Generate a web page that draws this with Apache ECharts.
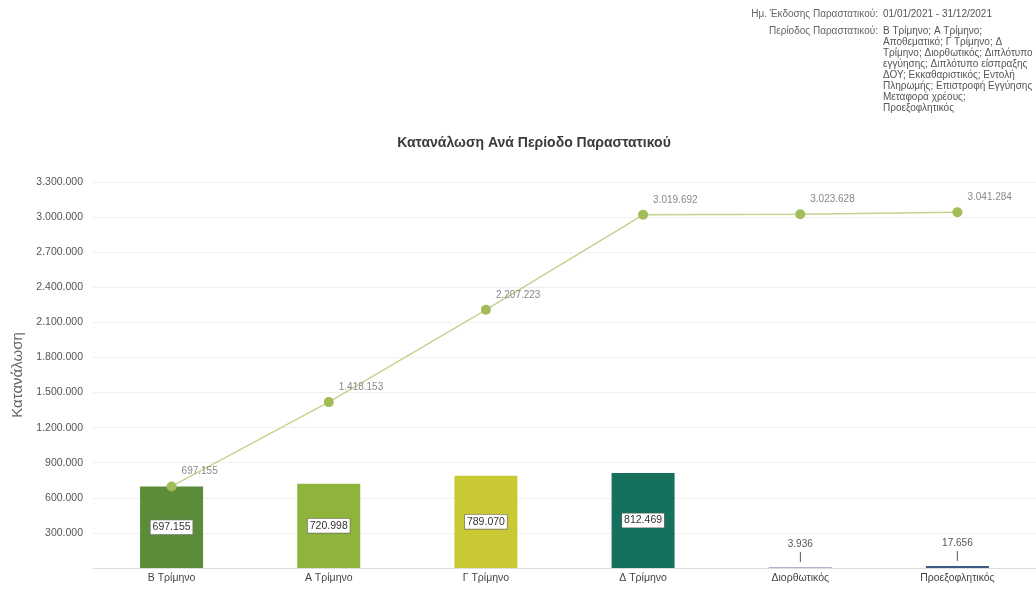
<!DOCTYPE html>
<html>
<head>
<meta charset="utf-8">
<script src="https://cdn.jsdelivr.net/npm/echarts@6/dist/echarts.min.js"></script>
<style>html,body{margin:0;padding:0;background:#fff}#c{width:1036px;height:591px}</style>
</head>
<body>
<div id="c"></div>
<script>
const categories = ['Β Τρίμηνο', 'Α Τρίμηνο', 'Γ Τρίμηνο', 'Δ Τρίμηνο', 'Διορθωτικός', 'Προεξοφλητικός'];
const barValues = [697155, 720998, 789070, 812469, 3936, 17656];
const cumulativeValues = [697155, 1418153, 2207223, 3019692, 3023628, 3041284];
const barColors = ['#5b8c3a', '#8fb43c', '#c9c935', '#16705e', '#6f5f9a', '#3c5a82'];
const yTicks = { min: 0, max: 3300000, interval: 300000 };
const titleText = 'Κατανάλωση Ανά Περίοδο Παραστατικού';
const yAxisName = 'Κατανάλωση';
const headerLabel1 = 'Ημ. Έκδοσης Παραστατικού:';
const headerValue1 = '01/01/2021 - 31/12/2021';
const headerLabel2 = 'Περίοδος Παραστατικού:';
const headerValue2Lines = ['Β Τρίμηνο; Α Τρίμηνο;', 'Αποθεματικό; Γ Τρίμηνο; Δ', 'Τρίμηνο; Διορθωτικός; Διπλότυπο', 'εγγύησης; Διπλότυπο είσπραξης', 'ΔΟΥ; Εκκαθαριστικός; Εντολή', 'Πληρωμής; Επιστροφή Εγγύησης', 'Μεταφορά χρέους;', 'Προεξοφλητικός'];

function fmt(v) { return String(Math.round(v)).replace(/\B(?=(\d{3})+(?!\d))/g, '.'); }

const chart = echarts.init(document.getElementById('c'));
const font = 'Liberation Sans, Arial, sans-serif';

const barData = barValues.map((v, i) => {
  const d = { value: v, itemStyle: { color: barColors[i] } };
  if (i >= 4) {
    d.label = {
      position: 'top', distance: 4, backgroundColor: 'transparent', borderWidth: 0,
      formatter: p => '{v|' + fmt(p.value) + '}\n{t||}',
      rich: {
        v: { fontFamily: font, fontSize: 10, color: '#555', lineHeight: 16 },
        t: { fontFamily: font, fontSize: 10, color: '#333', lineHeight: 10 }
      }
    };
  }
  return d;
});

chart.setOption({
  backgroundColor: '#fff',
  animation: false,
  title: {
    text: titleText, left: 529, textAlign: 'center', top: 131,
    textStyle: { fontFamily: font, fontSize: 14, fontWeight: 'bold', color: '#3a3a3a' }
  },
  graphic: [
    { type: 'text', right: 1036 - 878, top: 9, style: { text: headerLabel1, font: '10px ' + font, fill: '#666', textAlign: 'right' } },
    { type: 'text', left: 883, top: 9, style: { text: headerValue1, font: '10px ' + font, fill: '#555' } },
    { type: 'text', right: 1036 - 878, top: 26, style: { text: headerLabel2, font: '10px ' + font, fill: '#666', textAlign: 'right' } },
    { type: 'text', left: 883, top: 26, style: { text: headerValue2Lines.join('\n'), font: '10px ' + font, fill: '#555', lineHeight: 11 } }
  ],
  grid: { left: 93, right: 0, top: 182, bottom: 23 },
  xAxis: {
    type: 'category', data: categories,
    axisLine: { lineStyle: { color: '#ddd' } },
    axisTick: { show: false },
    axisLabel: { fontFamily: font, fontSize: 10.5, color: '#444', margin: 5 }
  },
  yAxis: {
    type: 'value', min: yTicks.min, max: yTicks.max, interval: yTicks.interval,
    name: yAxisName, nameLocation: 'middle', nameGap: 67, nameRotate: 90,
    nameTextStyle: { fontFamily: font, fontSize: 15, color: '#666' },
    axisLabel: { fontFamily: font, fontSize: 10.5, color: '#555', margin: 10, showMinLabel: false, formatter: v => fmt(v) },
    splitLine: { lineStyle: { color: '#f0f0f0' } },
    axisLine: { show: false }, axisTick: { show: false }
  },
  series: [
    {
      type: 'bar', data: barData, barWidth: 63,
      label: {
        show: true, position: 'inside', formatter: p => fmt(p.value),
        fontFamily: font, fontSize: 10.5, color: '#333',
        backgroundColor: '#fff', borderColor: '#666', borderWidth: 0.6, padding: [2, 2, 1, 2]
      }
    },
    {
      type: 'line', data: cumulativeValues,
      symbol: 'circle', symbolSize: 10,
      itemStyle: { color: '#a3bc5a' },
      lineStyle: { color: '#c4d48e', width: 1.5 },
      label: { show: true, position: 'right', offset: [0, -15], formatter: p => fmt(p.value), fontFamily: font, fontSize: 10, color: '#888' },
      z: 5
    }
  ]
});
</script>
</body>
</html>
